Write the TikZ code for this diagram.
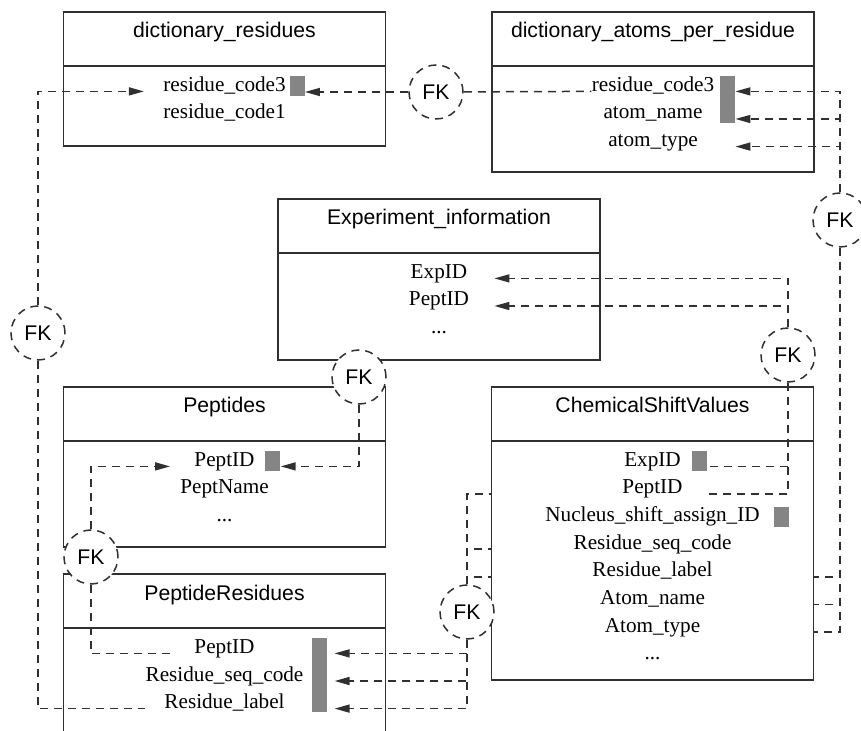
\documentclass[tikz,border=0pt]{standalone}
\usepackage{fontspec}
\setmainfont{Liberation Serif}
\setsansfont{Liberation Sans}
\usepackage{tikz}
\usetikzlibrary{positioning,arrows.meta}
\definecolor{ink}{HTML}{303030}
\definecolor{keygrey}{HTML}{858585}
\tikzset{
  tabhead/.style={draw=ink, line width=0.9pt, minimum width=161pt, minimum height=27pt,
    inner sep=0pt, outer sep=0pt, anchor=north, font=\sffamily\fontsize{10.6}{12}\selectfont,
    text height=7.5pt, text depth=8.5pt},
  tabbody/.style={draw=ink, line width=0.9pt, minimum width=161pt, inner sep=0pt, outer sep=0pt},
  field/.style={inner sep=0pt, font=\fontsize{10.6}{12}\selectfont, text height=7.5pt, text depth=2.5pt},
  keymark/.style={fill=keygrey, minimum width=7.5pt, minimum height=10pt, inner sep=0pt},
  fkcircle/.style={circle, draw=ink, line width=0.75pt, dash pattern=on 4pt off 3pt, fill=white,
    minimum size=27pt, inner sep=0pt, font=\sffamily\fontsize{10.6}{12}\selectfont},
  link/.style={draw=ink, line width=0.75pt, dash pattern=on 4pt off 3pt},
  linkarrow/.style={link, -{Triangle[length=7.5pt,width=4pt]}}
}

\begin{document}
\begin{tikzpicture}[x=0.5pt, y=-0.5pt, node distance=3.4pt]
    \useasboundingbox (0,0) rectangle (861,731);
    \clip (0,0) rectangle (861,731);
    % Tables
    \node[tabhead] (dres-h) at (224.5,12) {dictionary\_residues};
    \node[tabbody, below=0pt of dres-h, minimum height=40pt] (dres) {};
    \node[tabhead] (datm-h) at (653,12) {dictionary\_atoms\_per\_residue};
    \node[tabbody, below=0pt of datm-h, minimum height=53pt] (datm) {};
    \node[tabhead] (expi-h) at (439,199) {Experiment\_information};
    \node[tabbody, below=0pt of expi-h, minimum height=53.5pt] (expi) {};
    \node[tabhead] (pept-h) at (224.5,387) {Peptides};
    \node[tabbody, below=0pt of pept-h, minimum height=53pt] (pept) {};
    \node[tabhead] (pres-h) at (224.5,574) {PeptideResidues};
    \node[tabbody, below=0pt of pres-h, minimum height=70pt] (pres) {};
    \node[tabhead] (csv-h) at (652.5,387) {ChemicalShiftValues};
    \node[tabbody, below=0pt of csv-h, minimum height=119.5pt] (csv) {};
    % Fields
    \node[field, below=5pt of dres-h] (dres-c3) {residue\_code3};
    \node[field, below=of dres-c3] (dres-c1) {residue\_code1};
    \node[field, below=5pt of datm-h] (datm-c3) {residue\_code3};
    \node[field, below=of datm-c3] (datm-anm) {atom\_name};
    \node[field, below=of datm-anm] (datm-aty) {atom\_type};
    \node[field, below=5pt of expi-h] (expi-eid) {ExpID};
    \node[field, below=of expi-eid] (expi-pid) {PeptID};
    \node[field, below=of expi-pid] (expi-more) {...};
    \node[field, below=5pt of pept-h] (pept-pid) {PeptID};
    \node[field, below=of pept-pid] (pept-pnm) {PeptName};
    \node[field, below=of pept-pnm] (pept-more) {...};
    \node[field, below=5pt of pres-h] (pres-pid) {PeptID};
    \node[field, below=of pres-pid] (pres-rsc) {Residue\_seq\_code};
    \node[field, below=of pres-rsc] (pres-lab) {Residue\_label};
    \node[field, below=5pt of csv-h] (csv-eid) {ExpID};
    \node[field, below=of csv-eid] (csv-pid) {PeptID};
    \node[field, below=of csv-pid] (csv-nsa) {Nucleus\_shift\_assign\_ID};
    \node[field, below=of csv-nsa] (csv-rsc) {Residue\_seq\_code};
    \node[field, below=of csv-rsc] (csv-lab) {Residue\_label};
    \node[field, below=of csv-lab] (csv-anm) {Atom\_name};
    \node[field, below=of csv-anm] (csv-aty) {Atom\_type};
    \node[field, below=of csv-aty] (csv-more) {...};
    % Key marks
    \node[keymark, right=1.5pt of dres-c3] (dres-key) {};
    \node[keymark, minimum height=23.5pt, anchor=north west] (datm-key) at ([xshift=2.5pt]datm-c3.north east) {};
    \node[keymark, right=5pt of pept-pid] (pept-key) {};
    \node[keymark, minimum height=37pt, anchor=north west] (pres-key) at ([xshift=4pt]pres-rsc.east |- pres-pid.north) {};
    \node[keymark, right=5pt of csv-eid] (csv-ekey) {};
    \node[keymark, right=7pt of csv-nsa] (csv-nkey) {};
    % FK circles
    \node[fkcircle] (fk1) at (38,333) {FK};
    \node[fkcircle] (fk2) at (436,92) {FK};
    \node[fkcircle] (fk3) at (359,377) {FK};
    \node[fkcircle] (fk4) at (91,557) {FK};
    \node[fkcircle] (fk5) at (788,355) {FK};
    \node[fkcircle] (fk6) at (840,220) {FK};
    \node[fkcircle] (fk7) at (467,612) {FK};
    \coordinate (expi-in) at ([xshift=12.5pt]expi-pid.east);
    \coordinate (pres-in) at ([xshift=3.5pt]pres-key.east);
    % Links
    \draw[link] (fk2) -- (datm-c3.base west);
    \draw[linkarrow] (fk2) -- (fk2 -| dres-key.east);
    \draw[linkarrow] (fk1) |- ([xshift=-9.5pt]dres-c3.base west);
    \draw[link] (fk1) |- ([xshift=-9.5pt]pres-lab.base west);
    \draw[linkarrow] (fk3) |- (pept-key.east |- pept-pid.base);
    \draw[linkarrow] (fk4) |- ([xshift=-12pt]pept-pid.base west);
    \draw[link] (fk4) |- ([xshift=-12pt]pres-pid.base west);
    \foreach \f in {eid,pid} \draw[linkarrow] (fk5) |- (expi-in |- expi-\f.base);
    \foreach \f in {eid,pid} \draw[link] (fk5) |- (csv-ekey.east |- csv-\f.base);
    \foreach \f in {c3,anm,aty} \draw[linkarrow] (fk6) |- (datm-key.east |- datm-\f.base);
    \foreach \f in {lab,anm,aty} \draw[link] (fk6) |- (csv.east |- csv-\f.base);
    \foreach \f in {pid,rsc,lab} \draw[link] (fk7) |- (csv.west |- csv-\f.base);
    \foreach \f in {pid,rsc,lab} \draw[linkarrow] (fk7) |- (pres-in |- pres-\f.base);
\end{tikzpicture}
\end{document}
